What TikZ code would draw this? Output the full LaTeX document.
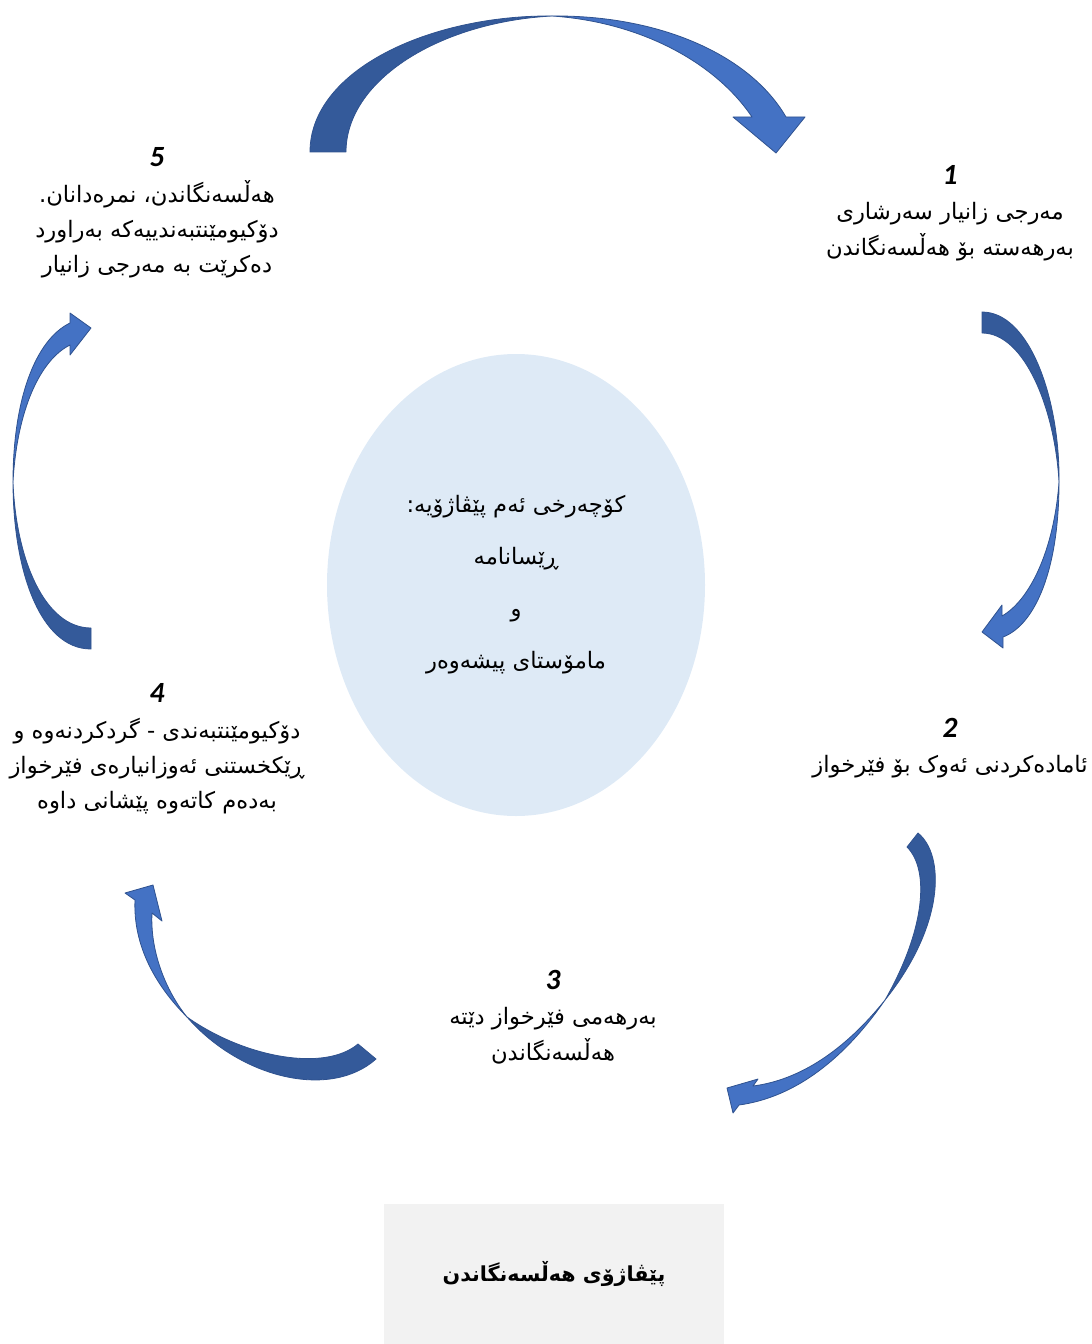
\documentclass[tikz,border=0pt]{standalone}
\usepackage{fontspec}
\setmainfont{Carlito}
\newfontfamily\arabicfont[Script=Arabic]{DejaVu Sans}
\TeXXeTstate=1
\usepackage{tikz}
\usetikzlibrary{shapes.geometric}
\definecolor{arrowdark}{HTML}{345A9A}
\definecolor{arrowlight}{HTML}{4472C4}
\definecolor{arrowline}{HTML}{2F528F}
\definecolor{hubfill}{HTML}{DEEAF6}
\definecolor{titlefill}{HTML}{F2F2F2}
\newcommand{\rl}[1]{\beginR #1\endR}
\newcommand{\stepno}[1]{{\normalfont\fontsize{22}{26.5}\selectfont\bfseries\itshape #1}}

\tikzset{
	stage/.style={align=center, inner sep=0pt, font=\arabicfont\fontsize{17}{26.5}\selectfont},
	hub/.style={ellipse, fill=hubfill, inner sep=0pt, minimum width=283.5pt, minimum height=346.5pt, align=center, font=\arabicfont\fontsize{17}{39}\selectfont},
	titlebox/.style={fill=titlefill, inner sep=0pt, minimum width=255pt, minimum height=105pt, font=\arabicfont\bfseries\fontsize{15.5}{20}\selectfont},
	tailpart/.style={fill=arrowdark, draw=arrowline, line width=0.6pt, line join=round},
	headpart/.style={fill=arrowlight, draw=arrowline, line width=0.6pt, line join=round}
}

\begin{document}
\begin{tikzpicture}[x=0.75pt, y=-0.75pt]
		\useasboundingbox (0,0) rectangle (1091,1344);

		\node[hub] (hub) at (516,585) {\rl{کۆچەرخی ئەم پێڤاژۆیە:}\\\rl{ڕێسانامە}\\\rl{و}\\\rl{مامۆستای پیشەوەر}};
		\node[titlebox] (title) at (554,1274) {\rl{پێڤاژۆی هەڵسەنگاندن}};

		\node[stage] (stageone) at (950,213) {\stepno{1}\\\rl{مەرجی زانیار سەرشاری}\\\rl{بەرهەستە بۆ هەڵسەنگاندن}};
		\node[stage] (stagetwo) at (950,748) {\stepno{2}\\\rl{ئامادەکردنی ئەوک بۆ فێرخواز}};
		\node[stage] (stagethree) at (553,1017) {\stepno{3}\\\rl{بەرهەمی فێرخواز دێتە}\\\rl{هەڵسەنگاندن}};
		\node[stage] (stagefour) at (157,749) {\stepno{4}\\\rl{دۆکیومێنتبەندی - گردکردنەوە و}\\\rl{ڕێکخستنی ئەوزانیارەی فێرخواز}\\\rl{بەدەم کاتەوە پێشانی داوە}};
		\node[stage] (stagefive) at (157,213) {\stepno{5}\\\rl{هەڵسەنگاندن، نمرەدانان.}\\\rl{دۆکیومێنتبەندییەکە بەراورد}\\\rl{دەکرێت بە مەرجی زانیار}};

		% 5 -> 1
		\filldraw[tailpart] (310,152) .. controls (310,70) and (430,15) .. (552,16) .. controls (440,22) and (346,80) .. (346,152) -- cycle;
		\filldraw[headpart] (552,16) .. controls (660,15) and (750,55) .. (786,117) -- (805,117) -- (776,153) -- (733,117) -- (752,117) .. controls (715,62) and (640,22) .. (552,16) -- cycle;
		% 1 -> 2
		\filldraw[tailpart] (982,312) .. controls (1030,312) and (1060,400) .. (1059,482) .. controls (1055,410) and (1025,333) .. (982,333) -- cycle;
		\filldraw[headpart] (1059,482) .. controls (1059,570) and (1035,625) .. (1003,637) -- (1003,648) -- (982,632) -- (1002,605) -- (1002,616) .. controls (1030,600) and (1054,550) .. (1059,482) -- cycle;
		% 2 -> 3
		\filldraw[tailpart] (918,833) .. controls (945,855) and (945,925) .. (885,1000) .. controls (925,930) and (930,870) .. (907,847) -- cycle;
		\filldraw[headpart] (885,1000) .. controls (840,1065) and (790,1098) .. (739,1105) -- (733,1113) -- (727,1088) -- (758,1079) -- (753,1086) .. controls (800,1080) and (845,1050) .. (885,1000) -- cycle;
		% 3 -> 4
		\filldraw[tailpart] (376,1059) .. controls (330,1100) and (240,1078) .. (187,1017) .. controls (245,1058) and (325,1072) .. (358,1044) -- cycle;
		\filldraw[headpart] (187,1017) .. controls (155,985) and (133,945) .. (135,900) -- (125,893) -- (153,885) -- (162,921) -- (152,913) .. controls (150,950) and (165,990) .. (187,1017) -- cycle;
		% 4 -> 5
		\filldraw[tailpart] (91,649) .. controls (40,649) and (13,570) .. (13,482) .. controls (16,560) and (45,628) .. (91,628) -- cycle;
		\filldraw[headpart] (13,482) .. controls (13,400) and (35,340) .. (70,323) -- (70,313) -- (91,328) -- (70,355) -- (70,345) .. controls (40,360) and (17,410) .. (13,482) -- cycle;
\end{tikzpicture}
\end{document}
